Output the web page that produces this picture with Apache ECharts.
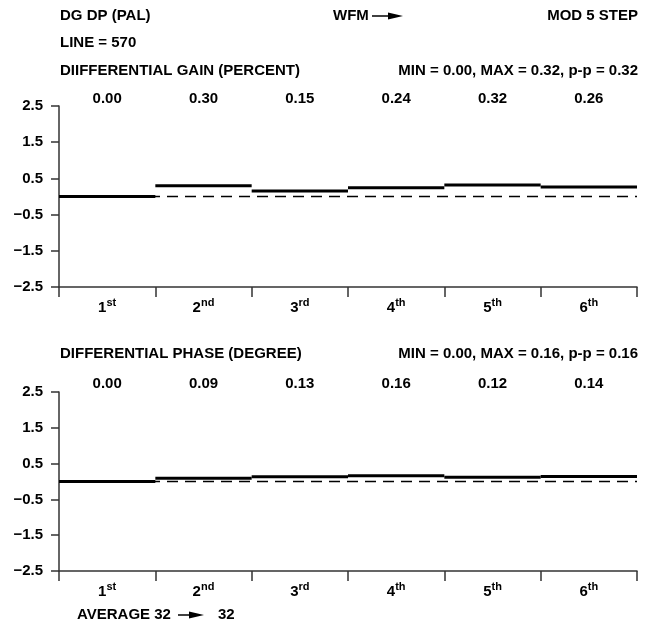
<!DOCTYPE html>
<html>
<head>
<meta charset="utf-8">
<script src="https://cdn.jsdelivr.net/npm/echarts@6/dist/echarts.min.js"></script>
<style>
html,body{margin:0;padding:0;background:#fff;}
#chart{width:658px;height:625px;}
</style>
</head>
<body>
<div id="chart"></div>
<script>
// ---- data ----
const steps = ['1', '2', '3', '4', '5', '6'];
const stepSuffix = ['st', 'nd', 'rd', 'th', 'th', 'th'];
const gainValues = [0.00, 0.30, 0.15, 0.24, 0.32, 0.26];
const phaseValues = [0.00, 0.09, 0.13, 0.16, 0.12, 0.14];
const yTicks = [-2.5, -1.5, -0.5, 0.5, 1.5, 2.5];
const gainTitle = 'DIIFFERENTIAL GAIN (PERCENT)';
const gainStats = 'MIN = 0.00, MAX = 0.32, p-p = 0.32';
const phaseTitle = 'DIFFERENTIAL PHASE (DEGREE)';
const phaseStats = 'MIN = 0.00, MAX = 0.16, p-p = 0.16';

const FONT = '"Liberation Sans", Arial, Helvetica, sans-serif';
const FS = 15;
const chart = echarts.init(document.getElementById('chart'), null, {renderer: 'canvas'});

const grids = [
  {left: 59, right: 21, top: 106, height: 181},
  {left: 59, right: 21, top: 392, height: 179}
];

function bottomAxis(gi) {
  return {
    type: 'category', gridIndex: gi, position: 'bottom', data: steps,
    boundaryGap: true,
    axisLine: {show: true, onZero: false, lineStyle: {color: '#333', width: 1.5}},
    axisTick: {show: true, length: 10, inside: false, lineStyle: {color: '#333', width: 1.5}},
    axisLabel: {
      margin: 10, interval: 0,
      formatter: function (v, i) { return '{n|' + v + '}{s|' + stepSuffix[i] + '}'; },
      rich: {
        n: {fontFamily: FONT, fontWeight: 'bold', fontSize: FS, color: '#000', verticalAlign: 'bottom', lineHeight: 18},
        s: {fontFamily: FONT, fontWeight: 'bold', fontSize: 11, color: '#000', verticalAlign: 'top', lineHeight: 18, padding: [0, 0, 5, 0]}
      }
    },
    splitLine: {show: false}
  };
}
function topAxis(gi, vals, margin) {
  return {
    type: 'category', gridIndex: gi, position: 'top',
    data: vals.map(v => v.toFixed(2)),
    axisLine: {show: false, onZero: false}, axisTick: {show: false},
    axisLabel: {margin: margin, interval: 0, fontFamily: FONT, fontWeight: 'bold', fontSize: FS, color: '#000'},
    splitLine: {show: false}
  };
}
function yAxis(gi) {
  return {
    type: 'value', gridIndex: gi, min: -2.5, max: 2.5,
    axisLine: {show: true, onZero: false, lineStyle: {color: '#333', width: 1.5}},
    axisTick: {show: true, length: 8, inside: false, customValues: yTicks, lineStyle: {color: '#333', width: 1.5}},
    axisLabel: {
      margin: 16, customValues: yTicks,
      formatter: v => (v < 0 ? '\u2212' : '') + Math.abs(v).toFixed(1),
      fontFamily: FONT, fontWeight: 'bold', fontSize: FS, color: '#000'
    },
    splitLine: {show: false}
  };
}
function stepSeries(xi, yi, vals) {
  return {
    type: 'custom', xAxisIndex: xi, yAxisIndex: yi, z: 3,
    data: vals.map((v, i) => [i, v]),
    renderItem: function (params, api) {
      const p = api.coord([api.value(0), api.value(1)]);
      const w = api.size([1, 0])[0];
      return {type: 'line', shape: {x1: p[0] - w / 2, y1: p[1], x2: p[0] + w / 2, y2: p[1]},
              style: {stroke: '#000', lineWidth: 3}};
    },
    markLine: {
      silent: true, symbol: 'none', label: {show: false}, z: 1,
      lineStyle: {color: '#000', width: 1.3, type: [11, 7]},
      data: [{yAxis: 0}]
    }
  };
}

function txt(x, y, text, align) {
  return {type: 'text', x: x, y: y, style: {text: text, fill: '#000', font: 'bold ' + FS + 'px ' + FONT,
    textAlign: align || 'left', textVerticalAlign: 'middle'}};
}
function arrow(x1, x2, y) {
  return [
    {type: 'line', shape: {x1: x1, y1: y, x2: x2 - 10, y2: y}, style: {stroke: '#000', lineWidth: 1.5}},
    {type: 'polygon', shape: {points: [[x2 - 15, y - 3.5], [x2, y], [x2 - 15, y + 3.5]]}, style: {fill: '#000'}}
  ];
}

const option = {
  animation: false,
  backgroundColor: '#fff',
  grid: grids,
  xAxis: [bottomAxis(0), topAxis(0, gainValues, 0), bottomAxis(1), topAxis(1, phaseValues, 1)],
  yAxis: [yAxis(0), yAxis(1)],
  series: [stepSeries(0, 0, gainValues), stepSeries(2, 1, phaseValues)],
  graphic: [
    txt(60, 16, 'DG DP (PAL)'),
    txt(333, 16, 'WFM'),
    ...arrow(372, 403, 16),
    txt(638, 16, 'MOD 5 STEP', 'right'),
    txt(60, 43, 'LINE = 570'),
    txt(60, 71, gainTitle),
    txt(638, 71, gainStats, 'right'),
    txt(60, 354, phaseTitle),
    txt(638, 354, phaseStats, 'right'),
    txt(77, 615, 'AVERAGE 32'),
    ...arrow(178, 204, 615),
    txt(218, 615, '32')
  ]
};
chart.setOption(option);
</script>
</body>
</html>
